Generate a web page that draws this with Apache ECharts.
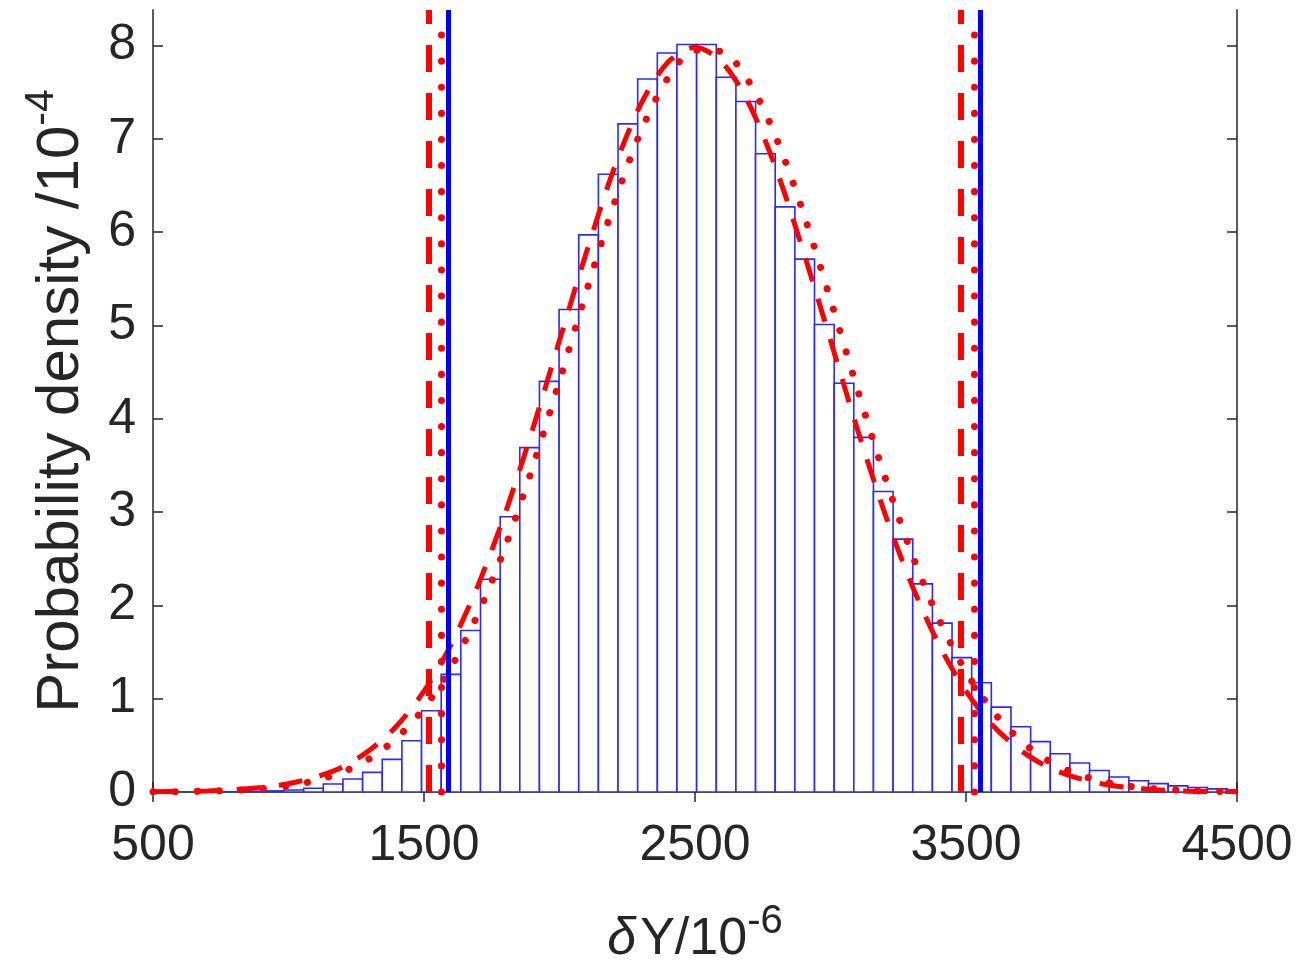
<!DOCTYPE html>
<html><head><meta charset="utf-8">
<script src="https://cdn.jsdelivr.net/npm/echarts@6/dist/echarts.min.js"></script>
<style>html,body{margin:0;padding:0;background:#fff}#c{width:1302px;height:963px}</style>
</head><body><div id="c"></div>
<script>
// Histogram bin edges (δY, 10^-6) and densities (10^-4)
const binEdges = [766, 838.5, 911, 983.5, 1056, 1128.5, 1201, 1273.5, 1346, 1418.5, 1491, 1563.5, 1636, 1708.5,
  1781, 1853.5, 1926, 1998.5, 2071, 2143.5, 2216, 2288.5, 2361, 2433.5, 2506, 2578.5, 2651, 2723.5, 2796,
  2868.5, 2941, 3013.5, 3086, 3158.5, 3231, 3303.5, 3376, 3448.5, 3521, 3593.5, 3666, 3738.5, 3811, 3883.5,
  3956, 4028.5, 4101, 4173.5, 4246, 4318.5, 4391, 4463.5, 4536];
const density = [0.003, 0.006, 0.012, 0.022, 0.04, 0.086, 0.14, 0.21, 0.35, 0.55, 0.87, 1.26, 1.73, 2.28,
  2.95, 3.69, 4.40, 5.17, 5.97, 6.62, 7.16, 7.64, 7.92, 8.01, 8.01, 7.66, 7.40, 6.84, 6.27, 5.71, 5.01,
  4.38, 3.80, 3.22, 2.71, 2.23, 1.81, 1.44, 1.17, 0.91, 0.70, 0.54, 0.41, 0.31, 0.23, 0.16, 0.12, 0.09,
  0.066, 0.048, 0.034, 0.024];
// Fitted density curves
const curveX = [500, 600, 700, 800, 900, 1000, 1100, 1200, 1300, 1400, 1500, 1600, 1700, 1800, 1900, 2000,
  2100, 2200, 2300, 2400, 2500, 2600, 2700, 2800, 2900, 3000, 3100, 3200, 3300, 3400, 3500, 3600, 3700,
  3800, 3900, 4000, 4100, 4200, 4300, 4400, 4500];
const dashedCurve = [0.003, 0.006, 0.012, 0.025, 0.048, 0.089, 0.16, 0.27, 0.45, 0.71, 1.08, 1.58, 2.22,
  2.99, 3.88, 4.84, 5.79, 6.67, 7.37, 7.82, 7.98, 7.82, 7.37, 6.67, 5.79, 4.84, 3.88, 2.99, 2.22, 1.58,
  1.08, 0.71, 0.45, 0.27, 0.16, 0.089, 0.048, 0.025, 0.012, 0.006, 0.003];
const dottedCurve = [0.002, 0.004, 0.009, 0.018, 0.036, 0.067, 0.123, 0.214, 0.359, 0.58, 0.899, 1.337,
  1.913, 2.63, 3.473, 4.406, 5.371, 6.29, 7.077, 7.651, 7.948, 7.932, 7.606, 7.007, 6.203, 5.275, 4.31,
  3.383, 2.552, 1.85, 1.288, 0.862, 0.554, 0.342, 0.203, 0.116, 0.063, 0.033, 0.017, 0.008, 0.004];
// Interval bounds
const dashedBounds = [1518, 3482];
const dottedBounds = [1565, 3532];
const solidBounds = [1591, 3553];
// Axes
const xTicks = [500, 1500, 2500, 3500, 4500];
const yTicks = [0, 1, 2, 3, 4, 5, 6, 7, 8];
const xRange = [500, 4500];
const yRange = [0, 8.38];

const FONT = '"Liberation Sans", Arial, Helvetica, sans-serif';
const AX = '#262626';

const histData = density.map((d, i) => [binEdges[i], binEdges[i + 1], d]);
const dashedData = curveX.map((x, i) => [x, dashedCurve[i]]);
const dottedData = curveX.map((x, i) => [x, dottedCurve[i]]);

const axisBase = {
  axisLine: { show: true, lineStyle: { color: '#4a4a4a', width: 1.8 } },
  splitLine: { show: false },
};

const chart = echarts.init(document.getElementById('c'), null, { renderer: 'canvas' });
chart.setOption({
  animation: false,
  backgroundColor: '#fff',
  grid: { left: 153, right: 65, top: 10, bottom: 171, containLabel: false, outerBoundsMode: 'none' },
  xAxis: [
    Object.assign({}, axisBase, {
      type: 'value', position: 'bottom', min: xRange[0], max: xRange[1],
      axisTick: { show: true, inside: true, length: 10, customValues: xTicks, lineStyle: { color: AX, width: 1.5 } },
      axisLabel: { customValues: xTicks, fontSize: 50, fontFamily: FONT, color: AX, margin: 29,
        formatter: v => String(v) },
      name: '{d|δ}{n|Y/10}{s|-6}', nameLocation: 'middle', nameGap: 110,
      nameTextStyle: {
        rich: {
          d: { fontSize: 52, fontFamily: FONT, fontStyle: 'italic', color: AX, lineHeight: 76, padding: [0, 4, 0, 0] },
          n: { fontSize: 52, fontFamily: FONT, color: AX, lineHeight: 76 },
          s: { fontSize: 40, fontFamily: FONT, color: AX, lineHeight: 30, verticalAlign: 'top' }
        }
      }
    }),
    Object.assign({}, axisBase, {
      type: 'value', position: 'top', min: xRange[0], max: xRange[1],
      axisTick: { show: true, inside: true, length: 10, customValues: xTicks, lineStyle: { color: AX, width: 1.5 } },
      axisLabel: { show: false }
    })
  ],
  yAxis: [
    Object.assign({}, axisBase, {
      type: 'value', position: 'left', min: yRange[0], max: yRange[1],
      axisTick: { show: true, inside: true, length: 10, customValues: yTicks, lineStyle: { color: AX, width: 1.5 } },
      axisLabel: { customValues: yTicks, fontSize: 50, fontFamily: FONT, color: AX, margin: 17,
        formatter: v => String(v) },
      name: '{n|Probability density /10}{s|-4}', nameLocation: 'middle', nameGap: 52,
      nameTextStyle: {
        rich: {
          n: { fontSize: 60, fontFamily: FONT, color: AX, lineHeight: 80 },
          s: { fontSize: 41, fontFamily: FONT, color: AX, lineHeight: 30, verticalAlign: 'top' }
        }
      }
    }),
    Object.assign({}, axisBase, {
      type: 'value', position: 'right', min: yRange[0], max: yRange[1],
      axisTick: { show: true, inside: true, length: 10, customValues: yTicks, lineStyle: { color: AX, width: 1.5 } },
      axisLabel: { show: false }
    })
  ],
  series: [
    {
      type: 'custom', name: 'histogram', clip: true, z: 2,
      data: histData,
      encode: { x: [0, 1], y: 2 },
      renderItem: function (params, api) {
        const p0 = api.coord([api.value(0), 0]);
        const p1 = api.coord([api.value(1), api.value(2)]);
        return {
          type: 'rect',
          shape: { x: p0[0], y: p1[1], width: p1[0] - p0[0], height: p0[1] - p1[1] },
          style: { fill: '#ffffff', stroke: '#2a2aff', lineWidth: 1.6 }
        };
      }
    },
    {
      type: 'line', name: 'dashed fit', data: dashedData, smooth: 0.3, symbol: 'none', z: 4,
      lineStyle: { color: '#ff0000', width: 5, type: [24, 18] }
    },
    {
      type: 'line', name: 'dotted fit', data: dottedData, smooth: 0.3, symbol: 'none', z: 4,
      lineStyle: { color: '#ff0000', width: 7, type: [0.1, 22], cap: 'round' }
    },
    {
      type: 'line', name: 'dashed bounds', data: [], z: 5,
      markLine: {
        silent: true, symbol: 'none', label: { show: false },
        lineStyle: { color: '#ff0000', width: 6, type: [27, 21] },
        data: dashedBounds.map(v => ({ xAxis: v }))
      }
    },
    {
      type: 'line', name: 'dotted bounds', data: [], z: 5,
      markLine: {
        silent: true, symbol: 'none', label: { show: false },
        lineStyle: { color: '#ff0000', width: 7, type: [0.1, 26], cap: 'round' },
        data: dottedBounds.map(v => ({ xAxis: v }))
      }
    },
    {
      type: 'line', name: 'solid bounds', data: [], z: 6,
      markLine: {
        silent: true, symbol: 'none', label: { show: false },
        lineStyle: { color: '#0000ff', width: 5, type: 'solid' },
        data: solidBounds.map(v => ({ xAxis: v }))
      }
    }
  ]
});
</script>
</body></html>
